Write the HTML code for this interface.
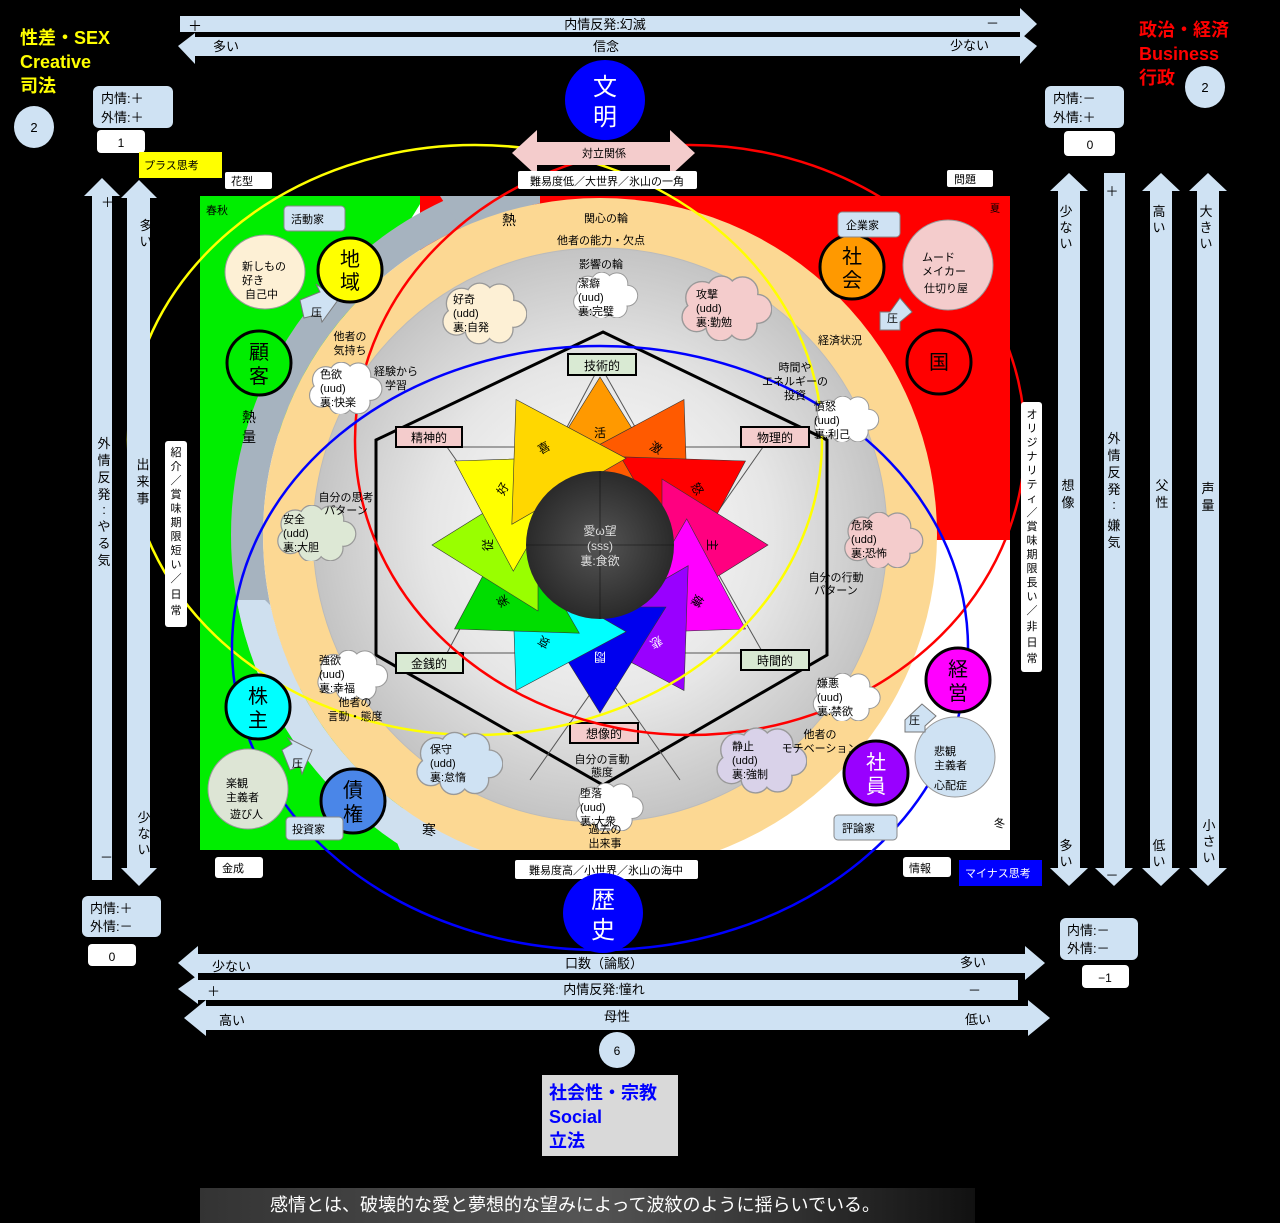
<!DOCTYPE html>
<html><head><meta charset="utf-8"><style>
html,body{margin:0;padding:0;background:#000;}
svg{display:block;}
text{font-family:"Liberation Sans","Noto Sans CJK JP",sans-serif;}
</style></head><body>
<svg width="1280" height="1223" viewBox="0 0 1280 1223" xmlns="http://www.w3.org/2000/svg">
<defs>
<symbol id="cl" viewBox="0 0 100 70">
<circle cx="24" cy="24" r="17"/><circle cx="45" cy="16" r="15"/><circle cx="68" cy="18" r="16"/><circle cx="84" cy="36" r="15"/><circle cx="68" cy="54" r="15"/><circle cx="44" cy="55" r="15"/><circle cx="18" cy="45" r="15"/><ellipse cx="50" cy="36" rx="38" ry="24"/>
</symbol>
<clipPath id="panel"><rect x="200" y="196" width="810" height="654"/></clipPath>
<clipPath id="leftc"><rect x="200" y="196" width="340" height="654"/></clipPath>
<clipPath id="lowleft"><polygon points="200,600 265,600 530,860 200,860"/></clipPath>
<radialGradient id="gr" cx="0.5" cy="0.5" r="0.5"><stop offset="0" stop-color="#ffffff"/><stop offset="0.6" stop-color="#e6e6e6"/><stop offset="1" stop-color="#c4c4c4"/></radialGradient>
<radialGradient id="dk" cx="0.5" cy="0.5" r="0.5"><stop offset="0" stop-color="#555"/><stop offset="1" stop-color="#2a2a2a"/></radialGradient>
<linearGradient id="cap" x1="0" x2="1"><stop offset="0" stop-color="#333"/><stop offset="0.5" stop-color="#555"/><stop offset="1" stop-color="#111"/></linearGradient>
</defs>
<rect width="1280" height="1223" fill="#000"/>

<!-- top arrows -->
<polygon points="180,16 1020,16 1020,8 1037,24 1020,40 1020,32 180,32" fill="#cfe2f3"/>
<polygon points="178,46 195,33 195,37 1020,37 1020,33 1037,46 1020,64 1020,56 195,56 195,64" fill="#cfe2f3"/>
<text x="188" y="31" font-size="14">＋</text>
<text x="605" y="29" font-size="13" text-anchor="middle">内情反発:幻滅</text>
<text x="986" y="28" font-size="13">－</text>
<text x="213" y="51" font-size="13">多い</text>
<text x="606" y="51" font-size="13" text-anchor="middle">信念</text>
<text x="950" y="50" font-size="13">少ない</text>

<!-- corner titles -->
<g font-weight="bold" font-size="18" fill="#ffff00">
<text x="20" y="44">性差・SEX</text><text x="20" y="68">Creative</text><text x="20" y="92">司法</text></g>
<g font-weight="bold" font-size="18" fill="#ff0000">
<text x="1139" y="36">政治・経済</text><text x="1139" y="60">Business</text><text x="1139" y="84">行政</text></g>
<ellipse cx="34" cy="127" rx="20" ry="21" fill="#cfe2f3"/><text x="34" y="132" font-size="13" text-anchor="middle">2</text>
<ellipse cx="1205" cy="87" rx="20" ry="21" fill="#cfe2f3"/><text x="1205" y="92" font-size="13" text-anchor="middle">2</text>

<rect x="93" y="86" width="80" height="42" rx="6" fill="#cfe2f3"/>
<text x="101" y="103" font-size="13">内情:＋</text><text x="101" y="122" font-size="13">外情:＋</text>
<rect x="97" y="130" width="48" height="23" rx="4" fill="#fff"/><text x="121" y="147" font-size="12" text-anchor="middle">1</text>
<rect x="1045" y="86" width="79" height="42" rx="6" fill="#cfe2f3"/>
<text x="1053" y="103" font-size="13">内情:－</text><text x="1053" y="122" font-size="13">外情:＋</text>
<rect x="1064" y="131" width="51" height="25" rx="4" fill="#fff"/><text x="1090" y="149" font-size="12" text-anchor="middle">0</text>

<rect x="139" y="152" width="83" height="26" fill="#ffff00"/><text x="144" y="169" font-size="11">プラス思考</text>
<rect x="225" y="172" width="47" height="17" rx="2" fill="#fff"/><text x="231" y="185" font-size="11">花型</text>
<rect x="947" y="170" width="46" height="17" rx="2" fill="#fff"/><text x="954" y="183" font-size="11">問題</text>

<!-- main panel -->
<rect x="200" y="196" width="810" height="654" fill="#fff"/>
<g clip-path="url(#panel)">
<polygon points="200,196 425,196 250,480 260,660 540,860 200,860" fill="#00ee00"/>
<polygon points="420,196 1012,196 1012,540 420,540" fill="#ff0000"/>
<circle cx="600" cy="535" r="353" fill="none" stroke="#a6b3bf" stroke-width="32" clip-path="url(#leftc)"/>
<circle cx="600" cy="535" r="353" fill="none" stroke="#cfe0ef" stroke-width="32" clip-path="url(#lowleft)"/>
<polygon points="380,800 520,850 400,850" fill="#cfe0ef"/>
<polygon points="440,196 532,196 532,238 470,242" fill="#a6b3bf"/>
<circle cx="600" cy="535" r="337" fill="#fcd893"/>
<circle cx="600" cy="535" r="287" fill="url(#gr)" stroke="#bbb"/>
</g>
<text x="206" y="214" font-size="11">春秋</text>
<text x="990" y="212" font-size="10">夏</text>
<text x="994" y="827" font-size="11">冬</text>
<text x="502" y="225" font-size="14">熱</text>
<text x="242" y="422" font-size="14">熱</text><text x="242" y="442" font-size="14">量</text>
<text x="422" y="835" font-size="14">寒</text>
<text x="606" y="222" font-size="11" text-anchor="middle">関心の輪</text>
<text x="601" y="244" font-size="11" text-anchor="middle">他者の能力・欠点</text>
<text x="601" y="268" font-size="11" text-anchor="middle">影響の輪</text>

<!-- hexagon -->
<polygon points="603,332 827,440 827,655 603,785 376,655 376,440" fill="none" stroke="#000" stroke-width="3"/>
<g stroke="#555" stroke-width="1" fill="none">
<line x1="447" y1="447" x2="763" y2="447"/><line x1="447" y1="653" x2="763" y2="653"/>
<line x1="447" y1="447" x2="680" y2="780"/><line x1="763" y1="447" x2="530" y2="780"/>
<line x1="447" y1="653" x2="600" y2="365"/><line x1="763" y1="653" x2="600" y2="365"/>
</g>

<!-- star -->
<g transform="translate(600,545)" stroke="#333" stroke-width="0.6">
<circle r="100" fill="#f0f0f0" stroke="none"/>
<polygon transform="rotate(0)" points="0,-168 -66,-62 66,-62" fill="#ff9900"/>
<polygon transform="rotate(30)" points="0,-168 -66,-62 66,-62" fill="#ff5a00"/>
<polygon transform="rotate(60)" points="0,-168 -66,-62 66,-62" fill="#ff0000"/>
<polygon transform="rotate(90)" points="0,-168 -66,-62 66,-62" fill="#ff0080"/>
<polygon transform="rotate(120)" points="0,-168 -66,-62 66,-62" fill="#ff00ff"/>
<polygon transform="rotate(150)" points="0,-168 -66,-62 66,-62" fill="#9900ff"/>
<polygon transform="rotate(180)" points="0,-168 -66,-62 66,-62" fill="#0000ee"/>
<polygon transform="rotate(210)" points="0,-168 -66,-62 66,-62" fill="#00ffff"/>
<polygon transform="rotate(240)" points="0,-168 -66,-62 66,-62" fill="#00dd00"/>
<polygon transform="rotate(270)" points="0,-168 -66,-62 66,-62" fill="#99ff00"/>
<polygon transform="rotate(300)" points="0,-168 -66,-62 66,-62" fill="#ffff00"/>
<polygon transform="rotate(330)" points="0,-168 -66,-62 66,-62" fill="#ffd700"/>
<g font-size="12" text-anchor="middle" stroke="none">
<text transform="rotate(0) translate(0,-108)">活</text>
<text transform="rotate(30) translate(0,-108)">激</text>
<text transform="rotate(60) translate(0,-108)">怒</text>
<text transform="rotate(90) translate(0,-108)">主</text>
<text transform="rotate(120) translate(0,-108)">嫌</text>
<text transform="rotate(150) translate(0,-108)" fill="#fff">悲</text>
<text transform="rotate(180) translate(0,-108)" fill="#fff">悶</text>
<text transform="rotate(210) translate(0,-108)">哀</text>
<text transform="rotate(240) translate(0,-108)">楽</text>
<text transform="rotate(270) translate(0,-108)">従</text>
<text transform="rotate(300) translate(0,-108)">好</text>
<text transform="rotate(330) translate(0,-108)">喜</text>
</g>
<circle r="74" fill="url(#dk)" stroke="none"/>
<line x1="-74" y1="0" x2="74" y2="0" stroke="#111"/><line x1="0" y1="-74" x2="0" y2="74" stroke="#111"/>
<text y="-10" font-size="12" text-anchor="middle" fill="#ddd" stroke="none">愛ω望</text>
<text y="5" font-size="12" text-anchor="middle" fill="#ddd" stroke="none">(sss)</text>
<text y="20" font-size="12" text-anchor="middle" fill="#ddd" stroke="none">裏:食欲</text>
</g>

<!-- hex labels -->
<g font-size="12" stroke="#000" stroke-width="2">
<rect x="568" y="354" width="68" height="21" fill="#d9ead3"/>
<rect x="396" y="427" width="66" height="20" fill="#f4cccc"/>
<rect x="741" y="427" width="68" height="20" fill="#f4cccc"/>
<rect x="396" y="653" width="67" height="20" fill="#d9ead3"/>
<rect x="741" y="650" width="68" height="20" fill="#d9ead3"/>
<rect x="570" y="723" width="68" height="20" fill="#f4cccc"/>
</g>
<g font-size="12" text-anchor="middle">
<text x="602" y="370">技術的</text><text x="429" y="442">精神的</text><text x="775" y="442">物理的</text>
<text x="429" y="668">金銭的</text><text x="775" y="665">時間的</text><text x="604" y="738">想像的</text>
</g>

<!-- ellipses -->
<ellipse cx="475" cy="440" rx="347" ry="295" fill="none" stroke="#ffff00" stroke-width="2.5"/>
<ellipse cx="690" cy="440" rx="335" ry="295" fill="none" stroke="#ff0000" stroke-width="2.5"/>
<ellipse cx="600" cy="648" rx="368" ry="302" fill="none" stroke="#0000ff" stroke-width="2.5"/>

<!-- clouds -->
<g stroke="#999" stroke-width="3">
<use href="#cl" x="441" y="278" width="86" height="70" fill="#fdf0d5"/>
<use href="#cl" x="558" y="272" width="94" height="46" fill="#fff"/>
<use href="#cl" x="680" y="275" width="92" height="66" fill="#f4cccc"/>
<use href="#cl" x="305" y="362" width="80" height="52" fill="#fff"/>
<use href="#cl" x="805" y="396" width="82" height="46" fill="#fff"/>
<use href="#cl" x="274" y="505" width="84" height="56" fill="#dde8d5"/>
<use href="#cl" x="842" y="512" width="82" height="56" fill="#f4cccc"/>
<use href="#cl" x="310" y="650" width="84" height="50" fill="#fff"/>
<use href="#cl" x="802" y="673" width="88" height="48" fill="#fff"/>
<use href="#cl" x="415" y="728" width="88" height="70" fill="#cfe2f3"/>
<use href="#cl" x="715" y="726" width="92" height="68" fill="#d9d2e9"/>
<use href="#cl" x="565" y="783" width="88" height="48" fill="#fff"/>
</g>
<use href="#cl" x="441" y="278" width="86" height="70" fill="#fdf0d5"/>
<use href="#cl" x="558" y="272" width="94" height="46" fill="#fff"/>
<use href="#cl" x="680" y="275" width="92" height="66" fill="#f4cccc"/>
<use href="#cl" x="305" y="362" width="80" height="52" fill="#fff"/>
<use href="#cl" x="805" y="396" width="82" height="46" fill="#fff"/>
<use href="#cl" x="274" y="505" width="84" height="56" fill="#dde8d5"/>
<use href="#cl" x="842" y="512" width="82" height="56" fill="#f4cccc"/>
<use href="#cl" x="310" y="650" width="84" height="50" fill="#fff"/>
<use href="#cl" x="802" y="673" width="88" height="48" fill="#fff"/>
<use href="#cl" x="415" y="728" width="88" height="70" fill="#cfe2f3"/>
<use href="#cl" x="715" y="726" width="92" height="68" fill="#d9d2e9"/>
<use href="#cl" x="565" y="783" width="88" height="48" fill="#fff"/>

<g font-size="11">
<text x="453" y="303">好奇</text><text x="453" y="317">(udd)</text><text x="453" y="331">裏:自発</text>
<text x="578" y="287">潔癖</text><text x="578" y="301">(uud)</text><text x="578" y="315">裏:完璧</text>
<text x="696" y="298">攻撃</text><text x="696" y="312">(udd)</text><text x="696" y="326">裏:勤勉</text>
<text x="320" y="378">色欲</text><text x="320" y="392">(uud)</text><text x="320" y="406">裏:快楽</text>
<text x="814" y="410">憤怒</text><text x="814" y="424">(uud)</text><text x="814" y="438">裏:利己</text>
<text x="283" y="523">安全</text><text x="283" y="537">(udd)</text><text x="283" y="551">裏:大胆</text>
<text x="851" y="529">危険</text><text x="851" y="543">(udd)</text><text x="851" y="557">裏:恐怖</text>
<text x="319" y="664">強欲</text><text x="319" y="678">(uud)</text><text x="319" y="692">裏:幸福</text>
<text x="817" y="687">嫌悪</text><text x="817" y="701">(uud)</text><text x="817" y="715">裏:禁欲</text>
<text x="430" y="753">保守</text><text x="430" y="767">(udd)</text><text x="430" y="781">裏:怠惰</text>
<text x="732" y="750">静止</text><text x="732" y="764">(udd)</text><text x="732" y="778">裏:強制</text>
<text x="580" y="797">堕落</text><text x="580" y="811">(uud)</text><text x="580" y="825">裏:大衆</text>
</g>
<g font-size="11" text-anchor="middle">
<text x="350" y="340">他者の</text><text x="350" y="354">気持ち</text>
<text x="396" y="375">経験から</text><text x="396" y="389">学習</text>
<text x="840" y="344">経済状況</text>
<text x="795" y="371">時間や</text><text x="795" y="385">エネルギーの</text><text x="795" y="399">投資</text>
<text x="346" y="501">自分の思考</text><text x="346" y="514">パターン</text>
<text x="836" y="581">自分の行動</text><text x="836" y="594">パターン</text>
<text x="355" y="706">他者の</text><text x="355" y="720">言動・態度</text>
<text x="820" y="738">他者の</text><text x="820" y="752">モチベーション</text>
<text x="602" y="763">自分の言動</text><text x="602" y="776">態度</text>
<text x="605" y="833">過去の</text><text x="605" y="847">出来事</text>
</g>

<!-- soft circles -->
<ellipse cx="265" cy="272" rx="40" ry="37" fill="#fdf0d5" stroke="#999"/>
<text x="242" y="270" font-size="11">新しもの</text><text x="242" y="284" font-size="11">好き</text><text x="245" y="298" font-size="11">自己中</text>
<circle cx="948" cy="265" r="45" fill="#f4cccc" stroke="#999"/>
<text x="922" y="261" font-size="11">ムード</text><text x="922" y="275" font-size="11">メイカー</text><text x="924" y="292" font-size="11">仕切り屋</text>
<circle cx="248" cy="789" r="40" fill="#dde5d5" stroke="#999"/>
<text x="226" y="787" font-size="11">楽観</text><text x="226" y="801" font-size="11">主義者</text><text x="230" y="818" font-size="11">遊び人</text>
<circle cx="955" cy="757" r="40" fill="#cfe2f3" stroke="#999"/>
<text x="934" y="755" font-size="11">悲観</text><text x="934" y="769" font-size="11">主義者</text><text x="934" y="789" font-size="11">心配症</text>

<!-- pressure arrows -->
<g fill="#cfe2f3" stroke="#777" stroke-width="1">
<polygon points="300,300 320,292 316,284 338,300 322,322 320,314 304,318"/>
<polygon points="900,298 890,312 880,312 880,330 900,330 900,322 912,312"/>
<polygon points="282,750 292,744 288,738 312,750 302,774 300,766 290,770"/>
<polygon points="922,704 905,720 905,732 925,732 925,726 936,716"/>
</g>
<g font-size="11"><text x="311" y="316">圧</text><text x="887" y="322">圧</text><text x="292" y="767">圧</text><text x="909" y="724">圧</text></g>

<!-- node circles -->
<g stroke="#000" stroke-width="3">
<circle cx="350" cy="270" r="32" fill="#ffff00"/>
<circle cx="259" cy="363" r="32" fill="#00ee00"/>
<circle cx="852" cy="267" r="32" fill="#ff9900"/>
<circle cx="939" cy="362" r="32" fill="#ff0000"/>
<circle cx="258" cy="707" r="32" fill="#00ffff"/>
<circle cx="353" cy="801" r="32" fill="#4a86e8"/>
<circle cx="958" cy="680" r="32" fill="#ff00ff"/>
<circle cx="876" cy="773" r="32" fill="#9900ff"/>
</g>
<g font-size="20" text-anchor="middle">
<text x="350" y="266">地</text><text x="350" y="289">域</text>
<text x="259" y="359">顧</text><text x="259" y="383">客</text>
<text x="852" y="263">社</text><text x="852" y="287">会</text>
<text x="939" y="369">国</text>
<text x="258" y="703">株</text><text x="258" y="727">主</text>
<text x="353" y="797">債</text><text x="353" y="821">権</text>
<text x="958" y="676">経</text><text x="958" y="700">営</text>
<text x="876" y="769" fill="#fff">社</text><text x="876" y="793" fill="#fff">員</text>
</g>

<!-- role labels -->
<g stroke="#888" stroke-width="1" fill="#cfe2f3">
<rect x="284" y="206" width="61" height="25" rx="4"/><rect x="838" y="212" width="62" height="25" rx="4"/>
<rect x="286" y="817" width="57" height="23" rx="4"/><rect x="834" y="815" width="63" height="25" rx="4"/>
</g>
<g font-size="11"><text x="291" y="223">活動家</text><text x="846" y="229">企業家</text><text x="292" y="833">投資家</text><text x="842" y="832">評論家</text></g>

<!-- top/bottom center -->
<circle cx="605" cy="100" r="40" fill="#0000ff"/>
<text x="605" y="95" font-size="24" fill="#fff" text-anchor="middle">文</text><text x="605" y="125" font-size="24" fill="#fff" text-anchor="middle">明</text>
<polygon points="512,153 537,130 537,142 670,142 670,130 695,153 670,176 670,165 537,165 537,176" fill="#f4cccc"/>
<text x="604" y="157" font-size="11" text-anchor="middle">対立関係</text>
<rect x="518" y="171" width="179" height="18" rx="2" fill="#fff"/>
<text x="607" y="185" font-size="11" text-anchor="middle">難易度低／大世界／氷山の一角</text>
<rect x="515" y="860" width="183" height="19" rx="2" fill="#fff"/>
<text x="606" y="874" font-size="11" text-anchor="middle">難易度高／小世界／氷山の海中</text>
<circle cx="603" cy="913" r="40" fill="#0000ff"/>
<text x="603" y="908" font-size="24" fill="#fff" text-anchor="middle">歴</text><text x="603" y="938" font-size="24" fill="#fff" text-anchor="middle">史</text>
<rect x="215" y="857" width="48" height="21" rx="3" fill="#fff"/><text x="222" y="872" font-size="11">金成</text>
<rect x="903" y="857" width="48" height="20" rx="3" fill="#fff"/><text x="909" y="872" font-size="11">情報</text>
<rect x="959" y="860" width="83" height="26" fill="#0000ff"/><text x="965" y="877" font-size="11" fill="#fff">マイナス思考</text>

<!-- left vertical arrows -->
<polygon points="102,178 120,196 112,196 112,880 92,880 92,196 84,196" fill="#cfe2f3"/>
<polygon points="139,180 157,198 150,198 150,868 157,868 139,886 121,868 127,868 127,198 121,198" fill="#cfe2f3"/>
<text x="101" y="207" font-size="13">＋</text><text x="100" y="862" font-size="13">－</text>
<g font-size="13" text-anchor="middle">
<text x="104" y="448">外</text><text x="104" y="465">情</text><text x="104" y="482">反</text><text x="104" y="499">発</text><text x="104" y="514">:</text><text x="104" y="531">や</text><text x="104" y="548">る</text><text x="104" y="565">気</text>
<text x="143" y="469">出</text><text x="143" y="486">来</text><text x="143" y="503">事</text>
<text x="146" y="230">多</text><text x="146" y="246">い</text>
<text x="144" y="822">少</text><text x="144" y="838">な</text><text x="144" y="854">い</text>
</g>
<rect x="165" y="441" width="22" height="186" rx="3" fill="#fff"/>
<g font-size="11" text-anchor="middle">
<text x="176" y="456">紹</text><text x="176" y="470">介</text><text x="176" y="484">／</text><text x="176" y="498">賞</text><text x="176" y="512">味</text><text x="176" y="526">期</text><text x="176" y="540">限</text><text x="176" y="554">短</text><text x="176" y="568">い</text><text x="176" y="582">／</text><text x="176" y="598">日</text><text x="176" y="614">常</text>
</g>
<rect x="82" y="896" width="79" height="41" rx="6" fill="#cfe2f3"/>
<text x="90" y="913" font-size="13">内情:＋</text><text x="90" y="931" font-size="13">外情:－</text>
<rect x="88" y="944" width="48" height="22" rx="4" fill="#fff"/><text x="112" y="961" font-size="12" text-anchor="middle">0</text>

<!-- right vertical arrows -->
<rect x="1021" y="402" width="21" height="270" rx="3" fill="#fff"/>
<g font-size="11" text-anchor="middle">
<text x="1032" y="418">オ</text><text x="1032" y="432">リ</text><text x="1032" y="446">ジ</text><text x="1032" y="460">ナ</text><text x="1032" y="474">リ</text><text x="1032" y="488">テ</text><text x="1032" y="502">ィ</text><text x="1032" y="516">／</text><text x="1032" y="530">賞</text><text x="1032" y="544">味</text><text x="1032" y="558">期</text><text x="1032" y="572">限</text><text x="1032" y="586">長</text><text x="1032" y="600">い</text><text x="1032" y="614">／</text><text x="1032" y="630">非</text><text x="1032" y="646">日</text><text x="1032" y="662">常</text>
</g>
<polygon points="1069,173 1088,191 1080,191 1080,868 1088,868 1069,886 1050,868 1058,868 1058,191 1050,191" fill="#cfe2f3"/>
<polygon points="1104,173 1125,173 1125,868 1133,868 1114,886 1095,868 1104,868" fill="#cfe2f3"/>
<polygon points="1161,173 1180,191 1172,191 1172,868 1180,868 1161,886 1142,868 1150,868 1150,191 1142,191" fill="#cfe2f3"/>
<polygon points="1208,173 1227,191 1219,191 1219,868 1227,868 1208,886 1189,868 1197,868 1197,191 1189,191" fill="#cfe2f3"/>
<g font-size="13" text-anchor="middle">
<text x="1066" y="216">少</text><text x="1066" y="232">な</text><text x="1066" y="248">い</text>
<text x="1068" y="490">想</text><text x="1068" y="507">像</text>
<text x="1066" y="850">多</text><text x="1066" y="866">い</text>
<text x="1112" y="196">＋</text><text x="1112" y="880">－</text>
<text x="1114" y="443">外</text><text x="1114" y="460">情</text><text x="1114" y="477">反</text><text x="1114" y="494">発</text><text x="1114" y="509">:</text><text x="1114" y="530">嫌</text><text x="1114" y="547">気</text>
<text x="1159" y="216">高</text><text x="1159" y="232">い</text>
<text x="1162" y="490">父</text><text x="1162" y="507">性</text>
<text x="1159" y="850">低</text><text x="1159" y="866">い</text>
<text x="1206" y="216">大</text><text x="1206" y="232">き</text><text x="1206" y="248">い</text>
<text x="1208" y="493">声</text><text x="1208" y="510">量</text>
<text x="1209" y="830">小</text><text x="1209" y="846">さ</text><text x="1209" y="862">い</text>
</g>
<rect x="1060" y="918" width="78" height="42" rx="6" fill="#cfe2f3"/>
<text x="1067" y="935" font-size="13">内情:－</text><text x="1067" y="953" font-size="13">外情:－</text>
<rect x="1082" y="965" width="47" height="23" rx="4" fill="#fff"/><text x="1105" y="982" font-size="12" text-anchor="middle">−1</text>

<!-- bottom arrows -->
<polygon points="178,963 198,946 198,954 1025,954 1025,946 1045,963 1025,980 1025,973 198,973 198,980" fill="#cfe2f3"/>
<polygon points="178,989 198,975 198,980 1018,980 1018,1000 198,1000 198,1004" fill="#cfe2f3"/>
<polygon points="184,1018 206,1000 206,1006 1028,1006 1028,1000 1050,1018 1028,1036 1028,1030 206,1030 206,1036" fill="#cfe2f3"/>
<g font-size="13">
<text x="212" y="971">少ない</text><text x="604" y="968" text-anchor="middle">口数（論駁）</text><text x="960" y="967">多い</text>
<text x="207" y="996">＋</text><text x="604" y="994" text-anchor="middle">内情反発:憧れ</text><text x="968" y="995">－</text>
<text x="219" y="1025">高い</text><text x="617" y="1021" text-anchor="middle">母性</text><text x="965" y="1024">低い</text>
</g>
<circle cx="617" cy="1050" r="18" fill="#cfe2f3"/><text x="617" y="1055" font-size="12" text-anchor="middle">6</text>
<rect x="542" y="1075" width="136" height="81" fill="#d9d9d9"/>
<g font-size="18" font-weight="bold" fill="#0000ff"><text x="549" y="1099">社会性・宗教</text><text x="549" y="1123">Social</text><text x="549" y="1147">立法</text></g>

<rect x="200" y="1188" width="775" height="35" fill="url(#cap)"/>
<text x="575" y="1211" font-size="18" fill="#fff" text-anchor="middle">感情とは、破壊的な愛と夢想的な望みによって波紋のように揺らいでいる。</text>
</svg>
</body></html>
